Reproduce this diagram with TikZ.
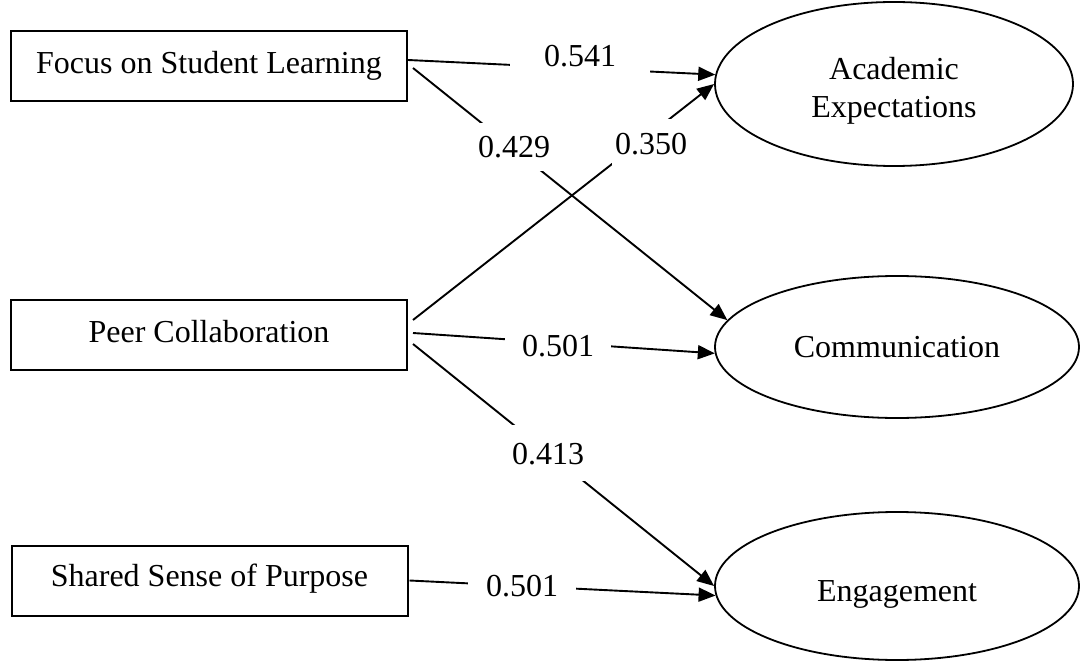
\documentclass[tikz,border=0pt]{standalone}
\usepackage{fontspec}
\setmainfont{Liberation Serif}
\usetikzlibrary{arrows.meta,shapes.geometric}
\tikzset{
  txt/.style={font=\fontsize{32}{38}\selectfont},
  box/.style={txt, draw, line width=2pt, rectangle, minimum width=396pt, minimum height=70pt, inner sep=0pt},
  oval/.style={txt, draw, line width=1.8pt, ellipse, align=center, inner sep=0pt},
  conn/.style={line width=1.9pt, -{Triangle[length=17pt,width=14pt]}},
  lbl/.style={txt, fill=white, text height=22pt, text depth=0pt, inner xsep=0pt, inner ysep=0pt}
}
\begin{document}
\begin{tikzpicture}[x=1pt,y=-1pt]
\path[fill=white,use as bounding box] (0,0) rectangle (1080,666);
% boxes
\node[box] (focus) at (209,66) {Focus on Student Learning};
\node[box, text height=22pt, text depth=8pt] (peer) at (209,335) {Peer Collaboration};
\node[box, text height=22pt, text depth=11pt] (shared) at (209.5,580.5) {Shared Sense of Purpose};
% ellipses
\node[oval, minimum width=358pt, minimum height=164pt,
      label={[txt, align=center, yshift=-7pt]center:Academic\\Expectations}] (acad) at (894,84) {};
\node[oval, minimum width=364pt, minimum height=142pt] (comm) at (897,347) {Communication};
\node[oval, minimum width=364pt, minimum height=148pt, text height=30pt, text depth=0pt] (eng) at (897,586) {Engagement};
% connectors
\draw[conn] ([yshift=6pt]focus.east) -- (acad.177);
\draw[conn] ([xshift=5pt,yshift=-2pt]focus.east) -- (comm.171);
\draw[conn] ([xshift=5pt,yshift=15pt]peer.east) -- (acad.180);
\draw[conn] ([xshift=5pt,yshift=2pt]peer.east) -- (comm.182);
\draw[conn] ([xshift=5pt,yshift=-9pt]peer.east) -- (eng.180);
\draw[conn] ([xshift=1pt]shared.east) -- (eng.183);
% labels
\node[lbl, inner xsep=34pt, inner ysep=8pt] (l1) at (580,56) {0.541};
\node[lbl, inner xsep=0pt, inner ysep=13pt] (l2) at (514,147) {0.429};
\node[lbl, inner xsep=3pt, inner ysep=14pt] (l3) at (651,144) {0.350};
\node[lbl, inner xsep=17pt, inner ysep=6pt] (l4) at (558,345) {0.501};
\node[lbl, inner xsep=1pt, inner ysep=17pt] (l5) at (548,453) {0.413};
\node[lbl, inner xsep=18pt, inner ysep=5pt] (l6) at (522,585) {0.501};
\end{tikzpicture}
\end{document}
